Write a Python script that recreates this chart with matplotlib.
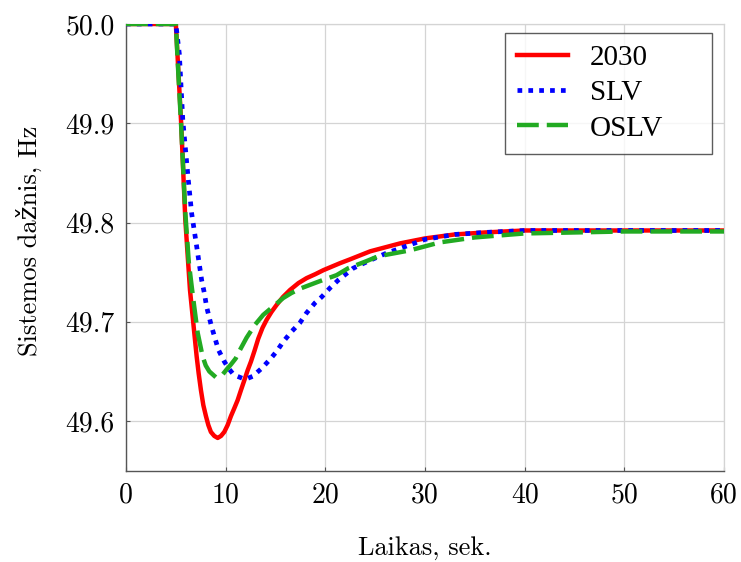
import matplotlib
matplotlib.use("Agg")
import matplotlib.pyplot as plt

plt.rcParams["font.family"] = ["cmr10", "DejaVu Serif"]
plt.rcParams["axes.formatter.use_mathtext"] = True

# Frequency response after the disturbance (time in s, frequency in Hz)
t_2030 = [0, 5.0, 5.52, 5.95, 6.2, 6.42, 6.59, 6.75, 6.92, 7.09, 7.29, 7.52, 7.76,
          8.02, 8.26, 8.52, 8.86, 9.2, 9.53, 9.86, 10.2, 10.53, 10.87, 11.2, 11.53,
          11.87, 12.2, 12.54, 12.9, 13.27, 13.7, 14.11, 14.6, 15.11, 15.75, 16.45,
          17.3, 18.12, 19.0, 19.8, 21.46, 22.5, 24.5, 27.5, 30, 33, 36, 40, 45, 50,
          55, 60]
f_2030 = [50.0, 50.0, 49.903, 49.803, 49.765, 49.732, 49.715, 49.699, 49.682,
          49.665, 49.648, 49.631, 49.616, 49.605, 49.596, 49.589, 49.585, 49.583,
          49.585, 49.589, 49.596, 49.605, 49.613, 49.621, 49.631, 49.641, 49.651,
          49.660, 49.671, 49.683, 49.694, 49.702, 49.710, 49.717, 49.725, 49.732,
          49.739, 49.744, 49.748, 49.752, 49.759, 49.763, 49.771, 49.779, 49.784,
          49.788, 49.790, 49.792, 49.792, 49.792, 49.792, 49.792]

t_slv = [0, 5.0, 5.35, 5.7, 6.25, 6.59, 7.09, 7.59, 7.86, 8.09, 8.36, 8.59, 9.03,
         9.26, 9.86, 10.3, 10.7, 11.2, 11.7, 12.2, 12.7, 13.6, 14.44, 15.1, 15.78,
         16.6, 17.45, 18.12, 18.96, 19.63, 20.46, 21.3, 22.8, 24.5, 26.1, 27.5, 30,
         33, 36, 40, 45, 50, 55, 60]
f_slv = [50.0, 50.0, 49.970, 49.903, 49.843, 49.809, 49.776, 49.742, 49.729,
         49.715, 49.704, 49.695, 49.680, 49.672, 49.660, 49.653, 49.648, 49.645,
         49.643, 49.643, 49.645, 49.653, 49.662, 49.670, 49.680, 49.690, 49.699,
         49.709, 49.719, 49.725, 49.734, 49.742, 49.754, 49.762, 49.769, 49.774,
         49.783, 49.788, 49.790, 49.792, 49.792, 49.792, 49.792, 49.792]

t_oslv = [0, 5.0, 5.25, 5.52, 5.95, 6.3, 6.6, 6.85, 7.19, 7.69, 8.0, 8.36, 9.03,
          9.7, 10.1, 10.53, 11.0, 11.4, 12.1, 12.94, 13.77, 14.95, 15.78, 16.6,
          17.62, 19.46, 21.13, 22.3, 24.1, 25.3, 28.5, 30, 31.5, 35, 40, 45, 50,
          55, 60]
f_oslv = [50.0, 50.0, 49.95, 49.90, 49.81, 49.76, 49.735, 49.715, 49.689, 49.665,
          49.656, 49.650, 49.644, 49.647, 49.652, 49.657, 49.663, 49.671, 49.684,
          49.697, 49.707, 49.717, 49.724, 49.729, 49.734, 49.741, 49.747, 49.754,
          49.761, 49.766, 49.772, 49.776, 49.780, 49.785, 49.789, 49.790, 49.791,
          49.791, 49.791]

x_ticks = [0, 10, 20, 30, 40, 50, 60]
y_ticks = [49.6, 49.7, 49.8, 49.9, 50.0]

fig = plt.figure(figsize=(7.41, 5.62), dpi=100)
ax = fig.add_axes([126 / 741, 1 - 471 / 562, 598 / 741, 447 / 562])

ax.plot(t_2030, f_2030, color="#ff0000", lw=3.2, label="2030", zorder=3,
        solid_joinstyle="round")
ax.plot(t_slv, f_slv, color="#0000ff", lw=3.4, linestyle=(0, (1, 1.3)),
        label="SLV", zorder=4, dash_joinstyle="round")
ax.plot(t_oslv, f_oslv, color="#22aa22", lw=3.2, linestyle=(0, (4.9, 1.8)),
        label="OSLV", zorder=5, dash_joinstyle="round")

ax.set_xlim(0, 60)
ax.set_ylim(49.5497, 50.0)
ax.set_xticks(x_ticks)
ax.set_xticklabels([str(v) for v in x_ticks])
ax.set_yticks(y_ticks)
ax.set_yticklabels([f"{v:.1f}" for v in y_ticks])

ax.grid(True, color="#d4d4d4", lw=0.9)
ax.set_axisbelow(True)
for side in ("left", "bottom"):
    ax.spines[side].set_color("#555555")
    ax.spines[side].set_linewidth(1.0)
for side in ("top", "right"):
    ax.spines[side].set_color("#d4d4d4")
    ax.spines[side].set_linewidth(0.9)

ax.tick_params(direction="in", length=3, width=0.8, color="#555555",
               labelsize=20, pad=8)

ax.set_xlabel("Laikas, sek.", fontsize=19)
ax.xaxis.set_label_coords(0.5, -0.172)
ax.xaxis.label.set_va("center")
ax.set_ylabel("Sistemos dažnis, Hz", fontsize=19)
ax.yaxis.set_label_coords(-0.163, 0.515)
ax.yaxis.label.set_va("center")

leg = ax.legend(loc="upper left", bbox_to_anchor=(0.634, 0.709, 0.346, 0.271),
                mode="expand", borderaxespad=0, frameon=True, fancybox=False,
                prop={"family": "Liberation Serif", "size": 21},
                borderpad=0.41, handlelength=1.75, handletextpad=0.75,
                labelspacing=0.3)
leg.get_frame().set_edgecolor("#333333")
leg.get_frame().set_linewidth(1.0)

fig.savefig("out.png", dpi=100)
